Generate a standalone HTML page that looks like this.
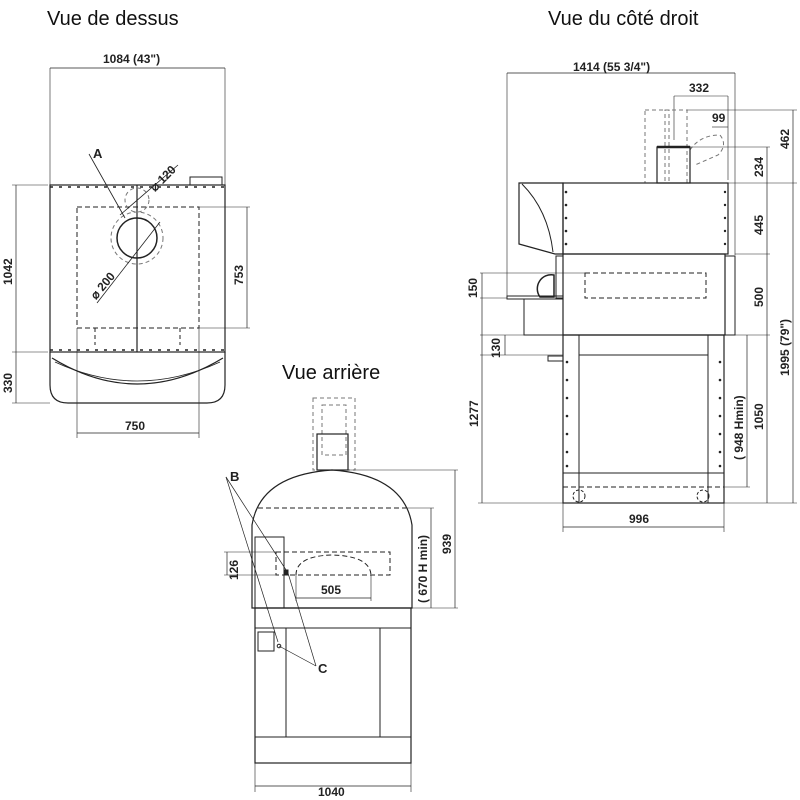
<!DOCTYPE html>
<html><head><meta charset="utf-8"><style>
html,body{margin:0;padding:0;background:#fff}
svg{display:block}
.t{font-family:"Liberation Sans",sans-serif;font-size:20px;fill:#111}
.d{font-family:"Liberation Sans",sans-serif;font-size:12px;font-weight:bold;fill:#222}
</style></head><body>
<svg width="800" height="800" viewBox="0 0 800 800" xmlns="http://www.w3.org/2000/svg">
<g fill="none" stroke="#222" stroke-width="1">
<!-- ===== TOP VIEW ===== -->
<line x1="50" y1="68" x2="225" y2="68" stroke-width="0.7"/>
<line x1="50" y1="68" x2="50" y2="185" stroke-width="0.6"/>
<line x1="225" y1="68" x2="225" y2="185" stroke-width="0.6"/>
<rect x="50" y="185" width="175" height="167" stroke-width="1.2"/>
<rect x="190" y="177" width="32" height="8"/>
<path d="M50 352 L50 385 Q50 403 68 403 L207 403 Q225 403 225 385 L225 352" stroke-width="1.2"/>
<path d="M52 358 Q137 410 223 358" stroke-width="1.2"/>
<path d="M55 362 Q137 400 220 362" stroke-width="0.8"/>
<line x1="50" y1="187" x2="225" y2="187" stroke-dasharray="3,6" stroke-width="1.5"/>
<line x1="50" y1="350" x2="225" y2="350" stroke-dasharray="3,6" stroke-width="1.5"/>
<rect x="77" y="207" width="122" height="121" stroke-dasharray="5,3"/>
<line x1="95" y1="328" x2="95" y2="345" stroke-dasharray="4,3"/>
<line x1="180" y1="328" x2="180" y2="345" stroke-dasharray="4,3"/>
<line x1="137" y1="185" x2="137" y2="352" stroke-width="1.2"/>
<circle cx="137" cy="238" r="20" stroke-width="1.5"/>
<circle cx="137" cy="238" r="26" stroke-dasharray="4,3" stroke="#777"/>
<circle cx="137" cy="200" r="12" stroke-dasharray="4,3" stroke="#777"/>
<line x1="89" y1="154" x2="125" y2="218" stroke-width="0.8"/>
<line x1="178" y1="165" x2="120" y2="215" stroke-width="0.8"/>
<line x1="97" y1="303" x2="160" y2="222" stroke-width="0.8"/>
<line x1="16" y1="185" x2="16" y2="403" stroke-width="0.7"/>
<line x1="12" y1="185" x2="48" y2="185" stroke-width="0.6"/>
<line x1="12" y1="352" x2="48" y2="352" stroke-width="0.6"/>
<line x1="12" y1="403" x2="50" y2="403" stroke-width="0.6"/>
<line x1="247" y1="207" x2="247" y2="328" stroke-width="0.7"/>
<line x1="199" y1="207" x2="250" y2="207" stroke-width="0.6"/>
<line x1="199" y1="328" x2="250" y2="328" stroke-width="0.6"/>
<line x1="77" y1="328" x2="77" y2="438" stroke-width="0.6"/>
<line x1="199" y1="328" x2="199" y2="438" stroke-width="0.6"/>
<line x1="77" y1="433" x2="199" y2="433" stroke-width="0.7"/>

<!-- ===== SIDE VIEW ===== -->
<line x1="507" y1="73" x2="735" y2="73" stroke-width="0.7"/>
<line x1="507" y1="73" x2="507" y2="298" stroke-width="0.6"/>
<line x1="735" y1="73" x2="735" y2="255" stroke-width="0.6"/>
<line x1="674" y1="96" x2="728" y2="96" stroke-width="0.6"/>
<line x1="674" y1="96" x2="674" y2="140" stroke-width="0.6"/>
<line x1="728" y1="96" x2="728" y2="180" stroke-width="0.6"/>
<line x1="712" y1="127" x2="728" y2="127" stroke-width="0.6"/>
<rect x="645" y="110" width="24" height="73" stroke-dasharray="4,3" stroke="#777"/>
<rect x="665" y="110" width="22" height="73" stroke-dasharray="4,3" stroke="#777"/>
<path d="M690 150 Q700 135 720 135 Q728 145 718 155 L695 165" stroke-dasharray="4,3" stroke="#777"/>
<rect x="657" y="147" width="33" height="36" stroke-width="1.2"/>
<line x1="657" y1="147" x2="690" y2="147" stroke-width="2.5"/>
<rect x="563" y="183" width="165" height="71" stroke-width="1.2"/>
<path d="M519 183 L563 183 L563 254 L555 254 L519 244 Z" stroke-width="1.2"/>
<path d="M522 184 Q548 210 553 252" stroke-width="1"/>
<rect x="563" y="254" width="162" height="81" stroke-width="1.2"/>
<rect x="725" y="256" width="10" height="79"/>
<rect x="556" y="256" width="7" height="42"/>
<path d="M540 297 A14 14 0 0 1 554 275 L554 297 Z" stroke-width="1.5"/>
<rect x="507" y="296" width="56" height="3"/>
<rect x="524" y="299" width="39" height="36"/>
<rect x="585" y="273" width="121" height="25" stroke-dasharray="5,3"/>
<line x1="480" y1="273" x2="585" y2="273" stroke-width="0.6"/>
<line x1="480" y1="298" x2="507" y2="298" stroke-width="0.6"/>
<line x1="482" y1="273" x2="482" y2="298" stroke-width="0.7"/>
<rect x="563" y="335" width="161" height="168" stroke-width="1.2"/>
<line x1="579" y1="335" x2="579" y2="503"/>
<line x1="708" y1="335" x2="708" y2="503"/>
<line x1="579" y1="355" x2="708" y2="355"/>
<line x1="563" y1="473" x2="724" y2="473"/>
<line x1="563" y1="487" x2="724" y2="487" stroke-dasharray="5,3"/>
<rect x="548" y="356" width="15" height="5"/>
<circle cx="579" cy="496" r="6" stroke-dasharray="3,2"/>
<circle cx="703" cy="496" r="6" stroke-dasharray="3,2"/>
<line x1="480" y1="335" x2="563" y2="335" stroke-width="0.6"/>
<line x1="480" y1="355" x2="563" y2="355" stroke-width="0.6"/>
<line x1="505" y1="335" x2="505" y2="355" stroke-width="0.7"/>
<line x1="482" y1="298" x2="482" y2="503" stroke-width="0.7"/>
<line x1="478" y1="503" x2="563" y2="503" stroke-width="0.6"/>
<line x1="563" y1="503" x2="563" y2="532" stroke-width="0.6"/>
<line x1="724" y1="503" x2="724" y2="532" stroke-width="0.6"/>
<line x1="563" y1="527" x2="724" y2="527" stroke-width="0.7"/>
<line x1="767" y1="147" x2="767" y2="503" stroke-width="0.7"/>
<line x1="690" y1="147" x2="770" y2="147" stroke-width="0.6"/>
<line x1="728" y1="183" x2="797" y2="183" stroke-width="0.6"/>
<line x1="735" y1="254" x2="770" y2="254" stroke-width="0.6"/>
<line x1="735" y1="335" x2="770" y2="335" stroke-width="0.6"/>
<line x1="724" y1="503" x2="797" y2="503" stroke-width="0.6"/>
<line x1="793" y1="110" x2="793" y2="503" stroke-width="0.7"/>
<line x1="687" y1="110" x2="797" y2="110" stroke-width="0.6"/>
<line x1="747" y1="335" x2="747" y2="487" stroke-width="0.7"/>
<line x1="724" y1="487" x2="750" y2="487" stroke-width="0.6"/>

<!-- ===== BACK VIEW ===== -->
<rect x="313" y="398" width="42" height="72" stroke-dasharray="4,3" stroke="#777"/>
<rect x="322" y="405" width="24" height="50" stroke-dasharray="4,3" stroke="#777"/>
<rect x="317" y="434" width="31" height="36" stroke-width="1.2"/>
<path d="M252 608 L252 525 Q260 475 332 470 Q404 475 412 525 L412 608 Z" stroke-width="1.2"/>
<line x1="258" y1="508" x2="406" y2="508" stroke-dasharray="5,3"/>
<rect x="255" y="537" width="29" height="71"/>
<rect x="276" y="552" width="114" height="23" stroke-dasharray="5,3"/>
<path d="M296 575 Q296 556 332 555 Q370 556 371 575" stroke-dasharray="5,3"/>
<rect x="284" y="570" width="4" height="5" fill="#222"/>
<rect x="255" y="608" width="156" height="155" stroke-width="1.2"/>
<line x1="255" y1="628" x2="411" y2="628"/>
<line x1="255" y1="737" x2="411" y2="737"/>
<line x1="286" y1="628" x2="286" y2="737"/>
<line x1="380" y1="628" x2="380" y2="737"/>
<rect x="258" y="632" width="16" height="19"/>
<circle cx="279" cy="646" r="1.8"/>
<line x1="226" y1="477" x2="278" y2="642" stroke-width="0.7"/>
<line x1="226" y1="477" x2="288" y2="573" stroke-width="0.7"/>
<line x1="288" y1="573" x2="316" y2="666" stroke-width="0.7"/>
<line x1="279" y1="646" x2="316" y2="666" stroke-width="0.7"/>
<line x1="227" y1="552" x2="227" y2="575" stroke-width="0.7"/>
<line x1="224" y1="552" x2="276" y2="552" stroke-width="0.6"/>
<line x1="224" y1="575" x2="276" y2="575" stroke-width="0.6"/>
<line x1="296" y1="575" x2="296" y2="601" stroke-width="0.6"/>
<line x1="371" y1="575" x2="371" y2="601" stroke-width="0.6"/>
<line x1="296" y1="598" x2="371" y2="598" stroke-width="0.7"/>
<line x1="348" y1="470" x2="458" y2="470" stroke-width="0.6"/>
<line x1="406" y1="508" x2="434" y2="508" stroke-width="0.6"/>
<line x1="412" y1="608" x2="458" y2="608" stroke-width="0.6"/>
<line x1="455" y1="470" x2="455" y2="608" stroke-width="0.7"/>
<line x1="431" y1="508" x2="431" y2="608" stroke-width="0.7"/>
<line x1="255" y1="763" x2="255" y2="792" stroke-width="0.6"/>
<line x1="411" y1="763" x2="411" y2="792" stroke-width="0.6"/>
<line x1="255" y1="786" x2="411" y2="786" stroke-width="0.7"/>
</g>
<g fill="#222">
<circle cx="566" cy="192" r="1.3"/><circle cx="566" cy="205" r="1.3"/><circle cx="566" cy="218" r="1.3"/><circle cx="566" cy="231" r="1.3"/><circle cx="566" cy="244" r="1.3"/>
<circle cx="725" cy="192" r="1.2"/><circle cx="725" cy="205" r="1.2"/><circle cx="725" cy="218" r="1.2"/><circle cx="725" cy="231" r="1.2"/><circle cx="725" cy="244" r="1.2"/>
<circle cx="567" cy="362" r="1.3"/><circle cx="567" cy="380" r="1.3"/><circle cx="567" cy="398" r="1.3"/><circle cx="567" cy="416" r="1.3"/><circle cx="567" cy="434" r="1.3"/><circle cx="567" cy="452" r="1.3"/><circle cx="567" cy="466" r="1.3"/>
<circle cx="720" cy="362" r="1.3"/><circle cx="720" cy="380" r="1.3"/><circle cx="720" cy="398" r="1.3"/><circle cx="720" cy="416" r="1.3"/><circle cx="720" cy="434" r="1.3"/><circle cx="720" cy="452" r="1.3"/><circle cx="720" cy="466" r="1.3"/>
</g>
<text class="t" x="47" y="25">Vue de dessus</text>
<text class="t" x="548" y="25">Vue du côté droit</text>
<text class="t" x="282" y="379">Vue arrière</text>
<g class="d">
<text x="103" y="63">1084 (43")</text>
<text x="93" y="158" font-size="13">A</text>
<text x="0" y="0" transform="translate(155,192) rotate(-45)">⌀ 120</text>
<text x="0" y="0" transform="translate(96,300) rotate(-50)">⌀ 200</text>
<text transform="translate(12,285) rotate(-90)">1042</text>
<text transform="translate(12,393) rotate(-90)">330</text>
<text transform="translate(243,285) rotate(-90)">753</text>
<text x="125" y="430">750</text>
<text x="573" y="71">1414 (55 3/4")</text>
<text x="689" y="92">332</text>
<text x="712" y="122">99</text>
<text transform="translate(477,298) rotate(-90)">150</text>
<text transform="translate(500,358) rotate(-90)">130</text>
<text transform="translate(478,427) rotate(-90)">1277</text>
<text transform="translate(763,177) rotate(-90)">234</text>
<text transform="translate(763,235) rotate(-90)">445</text>
<text transform="translate(763,307) rotate(-90)">500</text>
<text transform="translate(763,430) rotate(-90)">1050</text>
<text transform="translate(743,460) rotate(-90)">( 948 Hmin)</text>
<text transform="translate(789,149) rotate(-90)">462</text>
<text transform="translate(789,376) rotate(-90)">1995  (79")</text>
<text x="629" y="523">996</text>
<text x="230" y="481" font-size="13">B</text>
<text x="318" y="673" font-size="13">C</text>
<text transform="translate(238,580) rotate(-90)">126</text>
<text x="321" y="594">505</text>
<text transform="translate(427,603) rotate(-90)">( 670 H min)</text>
<text transform="translate(451,554) rotate(-90)">939</text>
<text x="318" y="796">1040</text>
</g>
</svg>
</body></html>
